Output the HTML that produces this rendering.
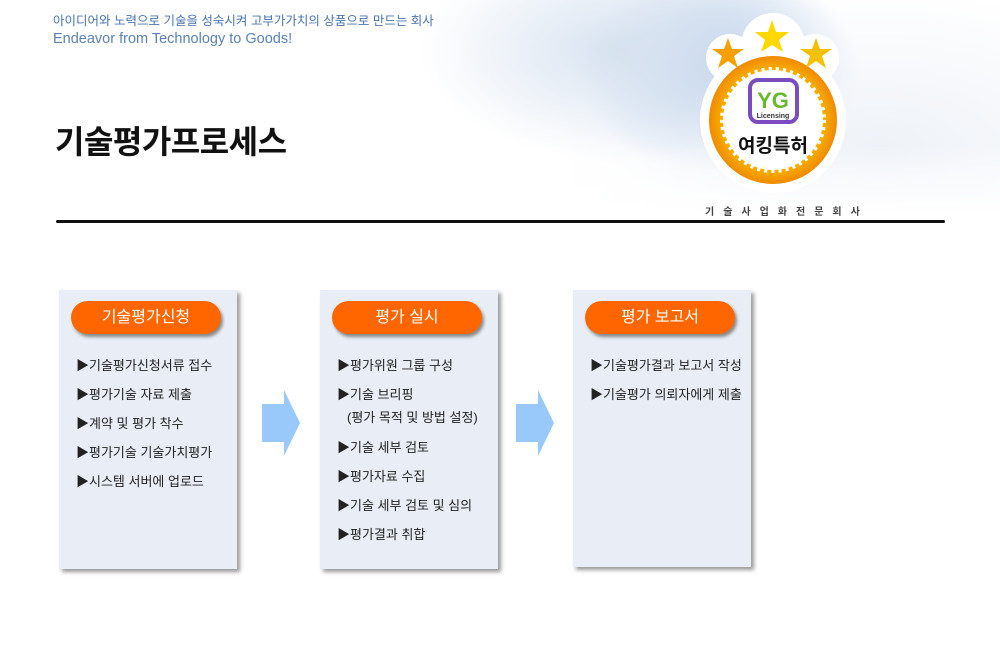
<!DOCTYPE html>
<html><head><meta charset="utf-8"><style>
*{margin:0;padding:0;box-sizing:border-box}
body{width:1000px;height:665px;background:#fff;position:relative;overflow:hidden;font-family:"Liberation Sans","Noto Sans CJK KR",sans-serif}
.hdr{position:absolute;left:0;top:0;width:1000px;height:215px;
background:radial-gradient(ellipse 200px 110px at 620px 50px,#d7e2f0 0%,rgba(215,226,240,0) 100%),
radial-gradient(ellipse 320px 160px at 880px 150px,#eef2f8 0%,rgba(238,242,248,0) 100%),
radial-gradient(ellipse 140px 110px at 720px 70px,#a9c3e4 0%,rgba(169,195,228,0) 100%),
#fff}
.hdr::after{content:"";position:absolute;left:0;right:0;bottom:0;height:70px;background:linear-gradient(to bottom,rgba(255,255,255,0),#fff)}
.t1{position:absolute;left:53px;top:10px;font-size:12.5px;color:#4a74ad}
.t2{position:absolute;left:53px;top:31px;font-size:14.5px;color:#5b82b8}
.title{position:absolute;left:55px;top:117px;font-size:32px;font-weight:bold;color:#111;letter-spacing:-0.5px}
.line{position:absolute;left:56px;top:220px;width:889px;height:3px;background:#111;border-radius:2px}
.sub{position:absolute;left:705px;top:203px;font-size:10px;font-weight:bold;color:#444;letter-spacing:9px}
.box{position:absolute;top:290px;width:178px;height:279px;background:#e9eef6;box-shadow:3px 3px 4px #999}
.pill{position:absolute;left:12px;top:11px;width:150px;height:33px;border-radius:17px;background:#ff6600;color:#fff;font-size:16px;text-align:center;line-height:33px;box-shadow:2px 3px 3px #888}
.items{position:absolute;left:17px;top:61px;font-size:13px;color:#222;line-height:29px;white-space:nowrap}
.arrow{position:absolute;top:390px}
</style></head><body>
<div class="hdr"></div>
<div class="t1">아이디어와 노력으로 기술을 성숙시켜 고부가가치의 상품으로 만드는 회사</div>
<div class="t2">Endeavor from Technology to Goods!</div>
<div class="title">기술평가프로세스</div>
<svg style="position:absolute;left:690px;top:0" width="170" height="200" viewBox="0 0 170 200">
<circle cx="83" cy="120" r="73" fill="#fff"/>
<circle cx="83" cy="45" r="32" fill="#fff"/>
<circle cx="40" cy="58" r="24" fill="#fff"/>
<circle cx="125" cy="58" r="24" fill="#fff"/>
<defs><radialGradient id="g" cx="50%" cy="50%" r="50%"><stop offset="60%" stop-color="#ffd000"/><stop offset="100%" stop-color="#f08a00"/></radialGradient></defs>
<circle cx="83" cy="120" r="64" fill="url(#g)"/>
<circle cx="83" cy="120" r="50" fill="#fff" stroke="#fff" stroke-width="6" stroke-dasharray="3 4"/>
<rect x="60" y="80" width="47" height="42" rx="8" fill="#fff" stroke="#7a4cc0" stroke-width="4"/>
<text x="83" y="108" font-size="22" font-weight="bold" fill="#6ab82e" text-anchor="middle" font-family="Liberation Sans">YG</text>
<text x="83" y="118" font-size="7" font-weight="bold" fill="#333" text-anchor="middle" font-family="Liberation Sans">Licensing</text>
<text x="83" y="152" font-size="19" font-weight="bold" fill="#111" text-anchor="middle">여킹특허</text>
<polygon fill="#f5a000" points="38,38 42,49 54,49 44,56 48,68 38,61 28,68 32,56 22,49 34,49"/>
<polygon fill="#ffd800" points="82,20 86,32 99,32 89,40 93,52 82,45 71,52 75,40 65,32 78,32"/>
<polygon fill="#f5c000" points="126,38 130,49 142,49 132,56 136,68 126,61 116,68 120,56 110,49 122,49"/>
</svg>
<div class="sub">기술사업화전문회사</div>
<div class="line"></div>

<div class="box" style="left:59px"><div class="pill">기술평가신청</div>
<div class="items">▶기술평가신청서류 접수<br>▶평가기술 자료 제출<br>▶계약 및 평가 착수<br>▶평가기술 기술가치평가<br>▶시스템 서버에 업로드</div></div>

<svg class="arrow" style="left:262px" width="40" height="68"><polygon points="0,14 22,14 22,0 38,33 22,66 22,52 0,52" fill="#99c9fb"/></svg>

<div class="box" style="left:320px"><div class="pill">평가 실시</div>
<div class="items">▶평가위원 그룹 구성<br>▶기술 브리핑<br><span style="display:block;line-height:16px;margin:1px 0 7px 10px">(평가 목적 및 방법 설정)</span>▶기술 세부 검토<br>▶평가자료 수집<br>▶기술 세부 검토 및 심의<br>▶평가결과 취합</div></div>

<svg class="arrow" style="left:516px" width="40" height="68"><polygon points="0,14 22,14 22,0 38,33 22,66 22,52 0,52" fill="#99c9fb"/></svg>

<div class="box" style="left:573px;height:277px"><div class="pill">평가 보고서</div>
<div class="items">▶기술평가결과 보고서 작성<br>▶기술평가 의뢰자에게 제출</div></div>
</body></html>
